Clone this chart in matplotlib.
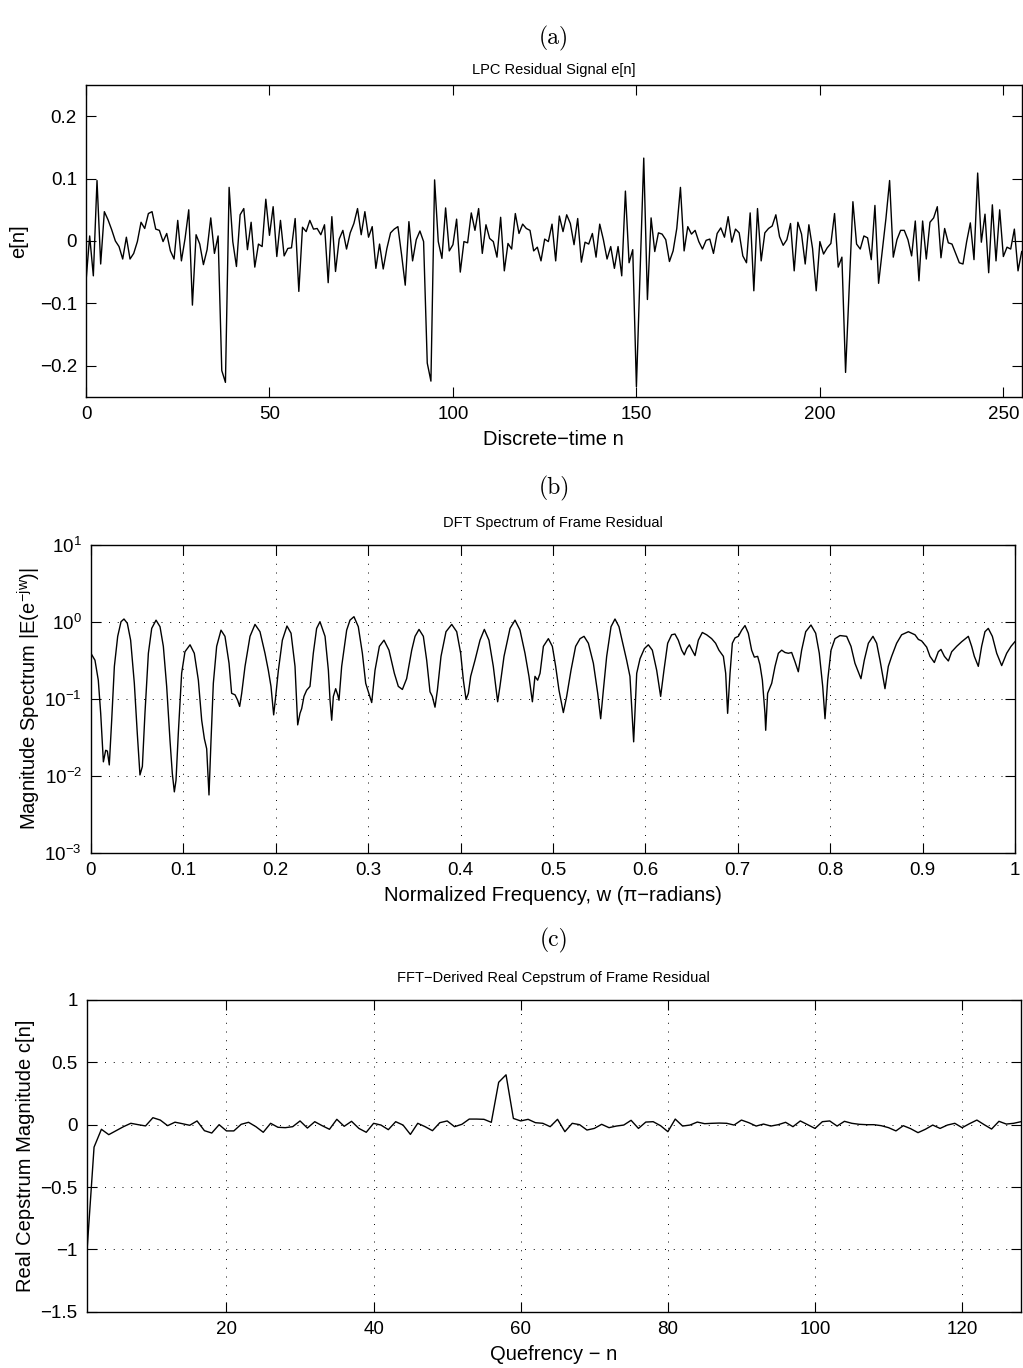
import numpy as np
import matplotlib
matplotlib.use('Agg')
import matplotlib.pyplot as plt
from matplotlib.ticker import FuncFormatter, MultipleLocator, LogLocator, NullLocator

# ---------------- data ----------------
residual = [
    -0.065, 0.008, -0.056, 0.097, -0.037, 0.047, 0.034, 0.018, 0.000, -0.009,
    -0.029, 0.006, -0.029, -0.020, -0.001, 0.030, 0.020, 0.044, 0.047, 0.019,
    0.017, -0.001, 0.012, -0.016, -0.029, 0.033, -0.032, 0.004, 0.050, -0.103,
    0.010, -0.005, -0.038, -0.014, 0.037, -0.020, 0.008, -0.208, -0.227, 0.086,
    -0.001, -0.041, 0.042, 0.052, -0.014, 0.030, -0.042, -0.005, -0.009, 0.067,
    0.009, 0.055, -0.025, 0.033, -0.024, -0.012, -0.011, 0.036, -0.081, 0.022,
    0.015, 0.033, 0.019, 0.020, 0.010, 0.026, -0.067, 0.039, -0.049, 0.003,
    0.017, -0.013, 0.013, 0.028, 0.052, 0.010, 0.047, 0.006, 0.023, -0.044,
    -0.005, -0.045, -0.012, 0.013, 0.019, 0.023, -0.022, -0.071, 0.031, -0.032,
    0.002, 0.016, -0.001, -0.196, -0.225, 0.098, -0.001, -0.028, 0.053, -0.016,
    -0.006, 0.035, -0.050, -0.001, -0.003, 0.045, 0.017, 0.052, -0.020, 0.026,
    0.004, -0.001, -0.026, 0.038, -0.048, -0.004, -0.013, 0.044, 0.012, 0.027,
    0.020, 0.017, -0.016, -0.010, -0.032, 0.003, -0.001, 0.027, -0.032, 0.040,
    0.015, 0.042, 0.028, -0.006, 0.036, -0.034, -0.002, -0.005, 0.012, -0.026,
    0.027, 0.002, -0.029, -0.009, -0.044, -0.009, -0.056, 0.080, -0.035, -0.014,
    -0.234, -0.050, 0.133, -0.094, 0.037, -0.017, 0.013, 0.011, 0.002, -0.033,
    -0.016, 0.020, 0.086, -0.016, 0.023, 0.011, 0.017, -0.001, -0.013, 0.001,
    0.003, -0.020, 0.012, 0.021, 0.006, 0.039, -0.002, 0.019, 0.013, -0.024,
    -0.035, 0.045, -0.080, 0.052, -0.032, 0.013, 0.020, 0.024, 0.042, 0.007,
    -0.007, 0.002, 0.028, -0.048, 0.030, 0.011, -0.037, 0.026, -0.012, -0.080,
    -0.001, -0.021, -0.011, -0.004, 0.044, -0.042, -0.026, -0.211, -0.074, 0.063,
    -0.005, -0.013, 0.008, 0.005, -0.030, 0.057, -0.068, -0.016, 0.036, 0.097,
    -0.026, 0.002, 0.017, 0.017, 0.002, -0.024, 0.032, -0.064, 0.032, -0.029,
    0.030, 0.037, 0.055, -0.027, 0.020, -0.003, -0.005, -0.020, -0.035, -0.037,
    -0.001, 0.029, -0.030, 0.109, -0.002, 0.043, -0.051, 0.058, -0.032, 0.050,
    -0.025, -0.010, -0.013, 0.019, -0.048, -0.017,
]

spec_freq = [
    0.0000, 0.0044, 0.0080, 0.0106, 0.0135, 0.0160, 0.0178, 0.0199, 0.0225, 0.0254,
    0.0290, 0.0326, 0.0358, 0.0394, 0.0430, 0.0470, 0.0502, 0.0531, 0.0557, 0.0585,
    0.0622, 0.0658, 0.0705, 0.0748, 0.0784, 0.0820, 0.0856, 0.0881, 0.0903, 0.0921,
    0.0946, 0.0982, 0.1018, 0.1073, 0.1119, 0.1163, 0.1199, 0.1228, 0.1253, 0.1278,
    0.1300, 0.1325, 0.1361, 0.1408, 0.1451, 0.1495, 0.1523, 0.1560, 0.1588, 0.1610,
    0.1632, 0.1668, 0.1722, 0.1776, 0.1830, 0.1884, 0.1920, 0.1949, 0.1978, 0.2000,
    0.2029, 0.2072, 0.2122, 0.2166, 0.2209, 0.2238, 0.2263, 0.2281, 0.2306, 0.2335,
    0.2371, 0.2407, 0.2443, 0.2479, 0.2534, 0.2570, 0.2588, 0.2606, 0.2624, 0.2649,
    0.2671, 0.2685, 0.2714, 0.2768, 0.2804, 0.2847, 0.2894, 0.2938, 0.2974, 0.3003,
    0.3039, 0.3075, 0.3122, 0.3172, 0.3226, 0.3284, 0.3327, 0.3371, 0.3417, 0.3472,
    0.3508, 0.3551, 0.3598, 0.3634, 0.3670, 0.3695, 0.3724, 0.3750, 0.3789, 0.3843,
    0.3905, 0.3959, 0.4002, 0.4031, 0.4060, 0.4085, 0.4110, 0.4157, 0.4211, 0.4258,
    0.4308, 0.4355, 0.4402, 0.4427, 0.4471, 0.4536, 0.4590, 0.4644, 0.4698, 0.4741,
    0.4778, 0.4806, 0.4835, 0.4861, 0.4897, 0.4951, 0.4994, 0.5030, 0.5066, 0.5113,
    0.5149, 0.5196, 0.5246, 0.5294, 0.5337, 0.5384, 0.5438, 0.5485, 0.5517, 0.5546,
    0.5582, 0.5629, 0.5672, 0.5715, 0.5763, 0.5798, 0.5834, 0.5874, 0.5907, 0.5943,
    0.5990, 0.6033, 0.6076, 0.6123, 0.6166, 0.6202, 0.6242, 0.6285, 0.6321, 0.6357,
    0.6394, 0.6422, 0.6448, 0.6477, 0.6502, 0.6538, 0.6574, 0.6617, 0.6664, 0.6718,
    0.6761, 0.6797, 0.6845, 0.6870, 0.6891, 0.6917, 0.6942, 0.6971, 0.7007, 0.7043,
    0.7079, 0.7115, 0.7151, 0.7180, 0.7216, 0.7241, 0.7267, 0.7295, 0.7303, 0.7324,
    0.7368, 0.7404, 0.7440, 0.7476, 0.7512, 0.7548, 0.7584, 0.7620, 0.7656, 0.7692,
    0.7736, 0.7793, 0.7844, 0.7883, 0.7920, 0.7945, 0.7974, 0.8010, 0.8053, 0.8107,
    0.8179, 0.8226, 0.8269, 0.8334, 0.8370, 0.8414, 0.8464, 0.8504, 0.8540, 0.8594,
    0.8630, 0.8666, 0.8720, 0.8774, 0.8847, 0.8919, 0.8955, 0.8991, 0.9045, 0.9081,
    0.9128, 0.9171, 0.9200, 0.9237, 0.9280, 0.9316, 0.9370, 0.9424, 0.9496, 0.9532,
    0.9561, 0.9604, 0.9640, 0.9676, 0.9712, 0.9756, 0.9803, 0.9857, 0.9911, 0.9958,
    1.0000,
]

spec_log10 = [
    -0.41, -0.50, -0.76, -1.19, -1.82, -1.67, -1.68, -1.86, -1.28, -0.58,
    -0.19, 0.00, 0.035, -0.02, -0.24, -0.80, -1.45, -1.99, -1.88, -1.19,
    -0.41, -0.087, 0.02, -0.065, -0.32, -0.84, -1.54, -1.97, -2.21, -2.06,
    -1.45, -0.67, -0.39, -0.30, -0.41, -0.76, -1.28, -1.52, -1.65, -2.25,
    -1.54, -0.80, -0.32, -0.11, -0.19, -0.54, -0.93, -0.95, -1.02, -1.10,
    -0.93, -0.58, -0.19, -0.035, -0.13, -0.41, -0.63, -0.84, -1.21, -0.97,
    -0.63, -0.24, -0.056, -0.15, -0.58, -1.34, -1.19, -1.13, -0.97, -0.89,
    -0.84, -0.41, -0.087, 0.00, -0.19, -0.63, -1.02, -1.28, -0.97, -0.87,
    -0.95, -1.02, -0.58, -0.11, 0.02, 0.065, -0.065, -0.41, -0.80, -0.91,
    -1.05, -0.63, -0.32, -0.24, -0.37, -0.67, -0.84, -0.88, -0.74, -0.37,
    -0.19, -0.10, -0.19, -0.50, -0.91, -0.97, -1.11, -0.89, -0.45, -0.13,
    -0.035, -0.13, -0.41, -0.76, -1.01, -0.93, -0.71, -0.50, -0.24, -0.10,
    -0.24, -0.58, -1.04, -0.84, -0.45, -0.087, 0.02, -0.11, -0.41, -0.71,
    -1.04, -0.71, -0.76, -0.67, -0.32, -0.22, -0.32, -0.58, -0.89, -1.18,
    -0.97, -0.63, -0.32, -0.22, -0.19, -0.28, -0.54, -0.93, -1.26, -0.89,
    -0.45, -0.065, 0.035, -0.065, -0.32, -0.50, -0.71, -1.56, -0.67, -0.48,
    -0.35, -0.30, -0.37, -0.63, -0.97, -0.63, -0.28, -0.17, -0.16, -0.24,
    -0.37, -0.43, -0.35, -0.30, -0.36, -0.44, -0.24, -0.14, -0.17, -0.22,
    -0.28, -0.37, -0.45, -0.67, -1.19, -0.67, -0.28, -0.21, -0.19, -0.11,
    -0.05, -0.15, -0.37, -0.46, -0.45, -0.56, -0.76, -1.19, -1.41, -0.93,
    -0.80, -0.58, -0.41, -0.37, -0.40, -0.41, -0.40, -0.52, -0.65, -0.37,
    -0.13, -0.043, -0.15, -0.41, -0.84, -1.26, -0.76, -0.37, -0.22, -0.18,
    -0.19, -0.32, -0.54, -0.74, -0.50, -0.28, -0.19, -0.28, -0.50, -0.87,
    -0.58, -0.45, -0.28, -0.17, -0.13, -0.17, -0.23, -0.25, -0.33, -0.45,
    -0.53, -0.39, -0.36, -0.45, -0.51, -0.39, -0.32, -0.26, -0.19, -0.32,
    -0.45, -0.58, -0.32, -0.13, -0.087, -0.19, -0.41, -0.57, -0.41, -0.32,
    -0.26,
]

cepstrum = [
    -1.05, -0.18, -0.037, -0.08, -0.048, -0.016, 0.011, 0.000, -0.010, 0.056,
    0.037, -0.008, 0.020, 0.008, -0.005, 0.030, -0.048, -0.067, 0.000, -0.050,
    -0.050, 0.003, 0.019, -0.016, -0.061, 0.011, -0.021, -0.024, -0.016, 0.030,
    -0.027, 0.024, -0.008, -0.037, 0.043, -0.013, 0.027, -0.030, -0.061, 0.011,
    -0.003, -0.040, 0.024, -0.003, -0.078, 0.011, -0.016, -0.048, 0.016, 0.030,
    -0.016, 0.003, 0.045, 0.045, 0.043, 0.019, 0.340, 0.400, 0.050, 0.030,
    0.043, 0.016, 0.011, -0.016, 0.043, -0.056, 0.011, 0.000, -0.043, -0.030,
    0.003, -0.024, -0.011, -0.003, 0.035, -0.030, 0.021, 0.024, -0.008, -0.056,
    0.045, -0.011, -0.003, 0.021, 0.008, 0.011, 0.013, 0.011, -0.003, 0.037,
    0.016, -0.011, 0.005, -0.011, 0.000, 0.019, -0.016, 0.030, 0.000, -0.030,
    0.024, 0.030, -0.011, 0.027, 0.011, 0.003, 0.000, 0.000, -0.008, -0.024,
    -0.050, -0.008, -0.032, -0.064, -0.037, -0.003, -0.030, -0.003, 0.011, -0.024,
    0.008, 0.037, 0.000, -0.035, 0.027, 0.005, 0.011, 0.024,
]

# ---------------- style ----------------
plt.rcParams['font.family'] = ['Liberation Sans', 'DejaVu Sans']
plt.rcParams['mathtext.fontset'] = 'custom'
plt.rcParams['mathtext.rm'] = 'Liberation Sans'
plt.rcParams['mathtext.it'] = 'Liberation Sans'
plt.rcParams['mathtext.bf'] = 'Liberation Sans:bold'
plt.rcParams['axes.unicode_minus'] = True

FS_TICK = 13.5
FS_LABEL = 14.5
FS_TITLE = 10.5
W, H = 1023, 1368
fig = plt.figure(figsize=(W / 100, H / 100), dpi=100)


def rect(l, r, t, b):
    return [l / W, 1 - b / H, (r - l) / W, (b - t) / H]


def fmt(v, pos):
    s = '%g' % v
    if s == '-0':
        s = '0'
    return s.replace('-', '\u2212')


grid_kw = dict(color='k', linestyle=(0, (1, 8)), linewidth=0.7)


def style(ax):
    ax.tick_params(direction='in', length=7, width=0.8, top=True, right=True,
                   labelsize=FS_TICK, pad=6.5)
    for sp in ax.spines.values():
        sp.set_linewidth(1.0)


def panel_label(txt, y_px):
    fig.text(554 / W, 1 - y_px / H, txt, family='cmr10', fontsize=17,
             ha='center', va='center')


# (a) residual
ax1 = fig.add_axes(rect(86, 1021.7, 85.2, 396.7))
n = np.arange(len(residual))
ax1.plot(n, residual, color='k', lw=1.0)
ax1.set_xlim(0, 255)
ax1.set_ylim(-0.25, 0.25)
ax1.xaxis.set_major_locator(MultipleLocator(50))
ax1.yaxis.set_major_locator(MultipleLocator(0.1))
ax1.xaxis.set_major_formatter(FuncFormatter(fmt))
ax1.yaxis.set_major_formatter(FuncFormatter(fmt))
style(ax1)
ax1.set_title('LPC Residual Signal e[n]', fontsize=FS_TITLE, pad=8)
ax1.set_xlabel('Discrete\u2212time n', fontsize=FS_LABEL, labelpad=5)
ax1.set_ylabel('e[n]', fontsize=FS_LABEL, labelpad=8)
panel_label('(a)', 38)

# (b) spectrum
ax2 = fig.add_axes(rect(90.9, 1014.9, 544.7, 852.7))
mag = 10.0 ** np.array(spec_log10)
ax2.semilogy(spec_freq, mag, color='k', lw=1.0)
ax2.set_xlim(0, 1)
ax2.set_ylim(1e-3, 1e1)
ax2.xaxis.set_major_locator(MultipleLocator(0.1))
ax2.xaxis.set_major_formatter(FuncFormatter(fmt))
ax2.yaxis.set_major_locator(LogLocator(base=10, numticks=10))
ax2.yaxis.set_minor_locator(NullLocator())
style(ax2)
ax2.grid(True, which='major', **grid_kw)
ax2.set_title('DFT Spectrum of Frame Residual', fontsize=FS_TITLE, pad=13)
ax2.set_xlabel('Normalized Frequency, w (\u03c0\u2212radians)', fontsize=FS_LABEL, labelpad=5)
ax2.set_ylabel(r'Magnitude Spectrum $|E(e^{-jw})|$', fontsize=FS_LABEL, labelpad=1)
panel_label('(b)', 488)

# (c) cepstrum
ax3 = fig.add_axes(rect(86.7, 1021, 1000, 1311.7))
q = np.arange(1, len(cepstrum) + 1)
ax3.plot(q, cepstrum, color='k', lw=1.0)
ax3.set_xlim(1, 128)
ax3.set_ylim(-1.5, 1)
ax3.xaxis.set_major_locator(MultipleLocator(20))
ax3.yaxis.set_major_locator(MultipleLocator(0.5))
ax3.xaxis.set_major_formatter(FuncFormatter(fmt))
ax3.yaxis.set_major_formatter(FuncFormatter(fmt))
style(ax3)
ax3.grid(True, which='major', **grid_kw)
ax3.set_title('FFT\u2212Derived Real Cepstrum of Frame Residual', fontsize=FS_TITLE, pad=13)
ax3.set_xlabel('Quefrency \u2212 n', fontsize=FS_LABEL, labelpad=5)
ax3.set_ylabel('Real Cepstrum Magnitude c[n]', fontsize=FS_LABEL, labelpad=4)
panel_label('(c)', 940)

fig.savefig('out.png', dpi=100)
